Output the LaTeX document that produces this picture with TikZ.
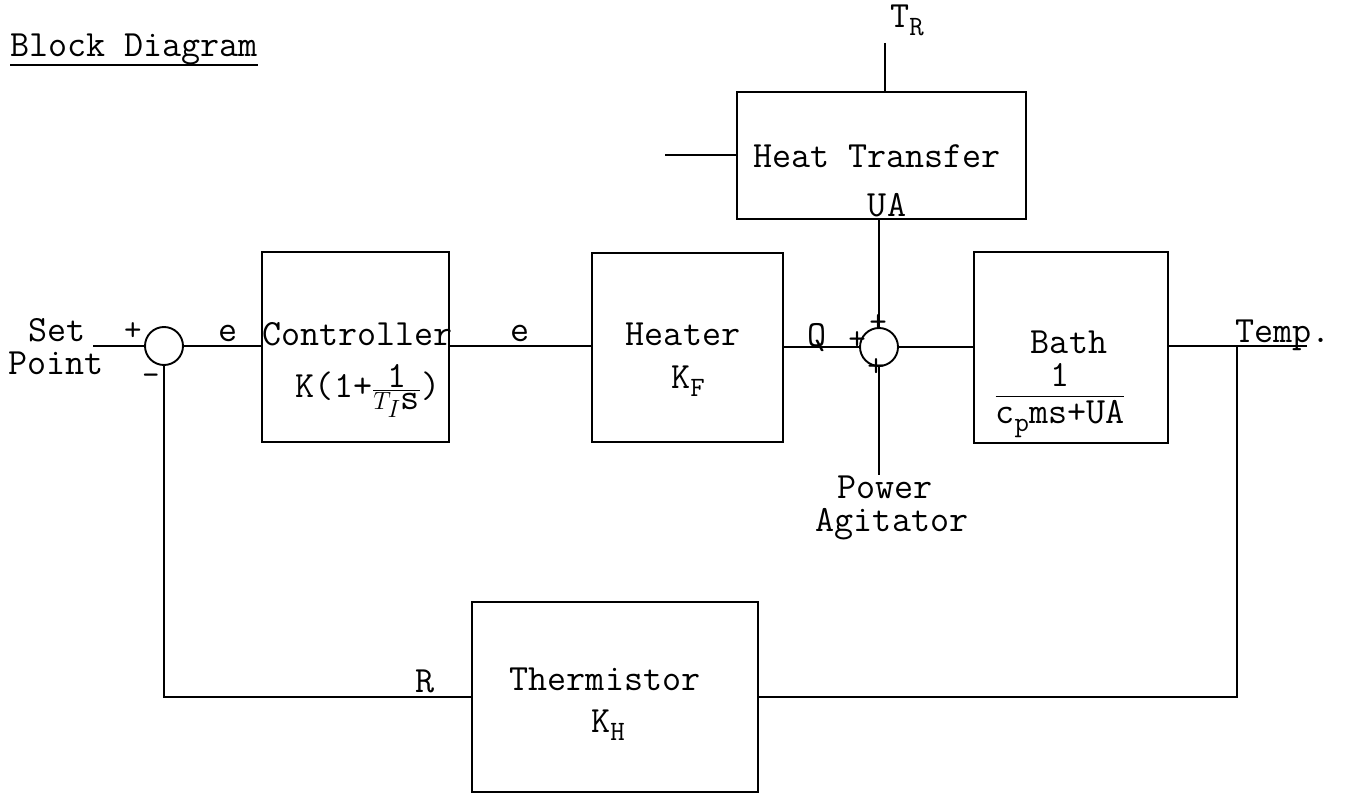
\documentclass[tikz,border=0pt]{standalone}
\usepackage{amsmath}
\newcommand{\tsub}[1]{\raisebox{-8pt}{\fontsize{28}{30}\selectfont #1}}
\begin{document}
\begin{tikzpicture}[x=1pt,y=-1pt,
  txt/.style={font=\fontsize{37}{40}\selectfont\ttfamily, inner sep=0pt, outer sep=0pt},
  sgn/.style={font=\fontsize{34}{36}\selectfont\ttfamily, inner sep=0pt},
  blockbox/.style={draw, line width=1.9pt, inner sep=0pt},
  sumnode/.style={draw, circle, line width=1.9pt, minimum size=38pt, inner sep=0pt},
  wire/.style={line width=1.9pt}]
\useasboundingbox (0,0) rectangle (1346,794);

% title
\node[txt, anchor=base west] (title) at (10,57) {Block Diagram};
\draw[wire] ([yshift=-8pt]title.base west) -- ([yshift=-8pt]title.base east);

% blocks
\node[blockbox, minimum width=187pt, minimum height=190pt] (ctrl) at (355.5,347) {};
\node[blockbox, minimum width=191pt, minimum height=189pt] (heater) at (687.5,347.5) {};
\node[blockbox, minimum width=194pt, minimum height=191pt] (bath) at (1071,347.5) {};
\node[blockbox, minimum width=289pt, minimum height=127pt] (heat) at (881.5,155.5) {};
\node[blockbox, minimum width=286pt, minimum height=190pt] (therm) at (615,697) {};

% summing junctions
\node[sumnode] (s1) at (164,346) {};
\node[sumnode] (s2) at (879,347) {};

% free ends
\coordinate (sp) at (93,346);
\coordinate (hl) at (665,155);
\coordinate (tr) at (885,43);
\coordinate (pa) at (879,475);
\coordinate (tend) at (1307,346);
\coordinate (tap) at (1237,346);

% connectors
\draw[wire] (sp) -- (s1.west);
\draw[wire] (s1.east) -- (ctrl.west |- s1.east);
\draw[wire] (ctrl.east |- s1.east) -- (heater.west |- s1.east);
\draw[wire] (heater.east |- s2.west) -- (s2.west);
\draw[wire] (s2.east) -- (bath.west |- s2.east);
\draw[wire] (bath.east |- tend) -- (tend);
\draw[wire] (tap) |- (therm.east);
\draw[wire] (therm.west) -| (s1.south);
\draw[wire] (s2.north |- heat.south) -- (s2.north);
\draw[wire] (s2.south) -- (pa);
\draw[wire] (hl) -- (heat.west |- hl);
\draw[wire] (tr) -- (tr |- heat.north);

% labels
\node[txt, anchor=base] (lset) at (57,341) {Set};
\node[txt, anchor=base] (lpoint) at (56,374) {Point};
\node[sgn] (p1) at (133,332) {+};
\node[sgn] (m1) at (151,380) {-};
\node[txt, anchor=base] (le1) at (228,341) {e};
\node[txt, anchor=base] (le2) at (520,341) {e};
\node[txt, anchor=base] (lctrl) at (357.5,345) {Controller};
\node[txt, anchor=base] (lk) at (368,397) {K(1+$\frac{\textstyle\texttt{1}}{\textstyle T_I\texttt{s}}$)};
\node[txt, anchor=base] (lheater) at (683,345) {Heater};
\node[txt, anchor=base] (lkf) at (688,388) {K\tsub{F}};
\node[txt, anchor=base] (lq) at (817,346) {Q};
\node[sgn] (p2) at (857,341) {+};
\node[sgn] (p3) at (878,324) {+};
\node[sgn] (p4) at (876,368) {+};
\node[txt, anchor=base] (lht) at (877,168) {Heat Transfer};
\node[txt, anchor=base] (lua) at (887,217) {UA};
\node[txt, anchor=base] (ltr) at (907,28) {T\tsub{R}};
\node[txt, anchor=base] (lbath) at (1069,353) {Bath};
\node[txt, anchor=base] (lfrac) at (1060,403) {$\displaystyle\frac{\texttt{1}}{\texttt{c\tsub{p}ms+UA}}$};
\node[txt, anchor=base] (ltemp) at (1283,342) {Temp.};
\node[txt, anchor=base] (lpower) at (885,498) {Power};
\node[txt, anchor=base] (lagit) at (892,531) {Agitator};
\node[txt, anchor=base] (lr) at (425,692) {R};
\node[txt, anchor=base] (lthermo) at (605,690) {Thermistor};
\node[txt, anchor=base] (lkh) at (608,732) {K\tsub{H}};
\end{tikzpicture}
\end{document}
